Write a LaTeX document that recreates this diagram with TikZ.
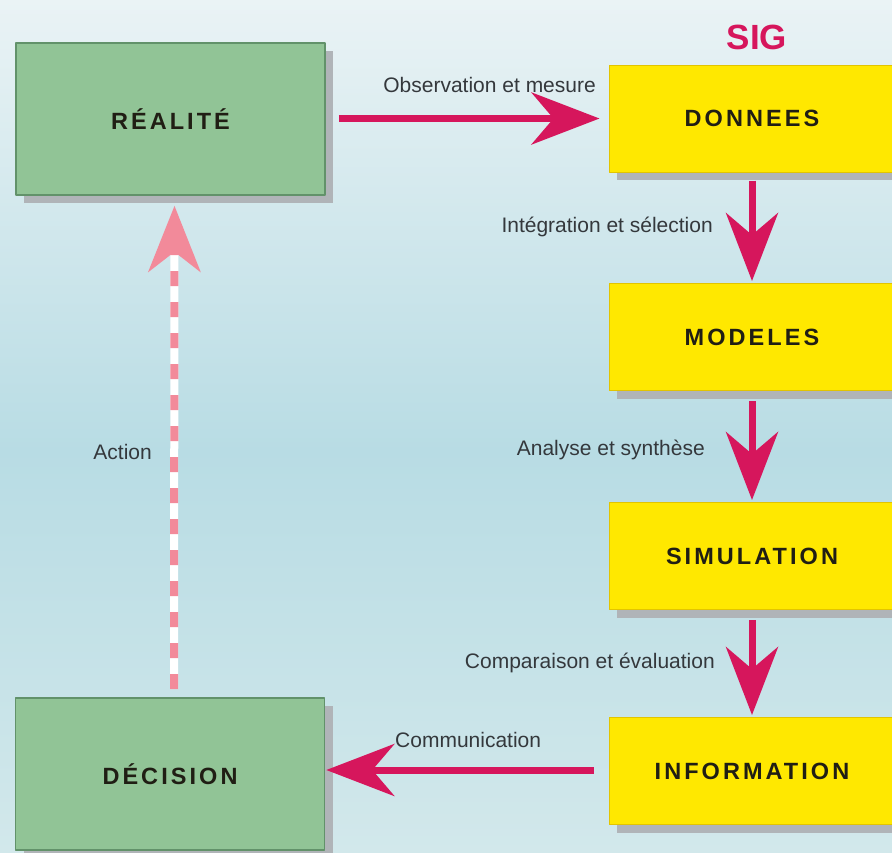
\documentclass[tikz,border=0pt]{standalone}
\usepackage{fontspec}
\setmainfont{Liberation Sans}
\newfontfamily\boxfont{Liberation Sans}[LetterSpace=13]
\usetikzlibrary{arrows.meta,shadows}
\definecolor{bgtop}{RGB}{234,243,245}
\definecolor{bgmid}{RGB}{184,220,228}
\definecolor{bgbot}{RGB}{210,232,235}
\definecolor{vert}{RGB}{145,196,150}
\definecolor{vertfonce}{RGB}{98,146,106}
\definecolor{jaune}{RGB}{255,232,0}
\definecolor{jaunefonce}{RGB}{226,196,0}
\definecolor{ombre}{RGB}{176,180,184}
\definecolor{fleche}{RGB}{214,22,92}
\definecolor{rose}{RGB}{242,138,154}
\definecolor{texte}{RGB}{52,56,60}
\begin{document}
\begin{tikzpicture}[x=1pt, y=-1pt, line join=round,
	bloc/.style={rectangle, minimum height=107pt, minimum width=286pt, inner sep=0pt,
		font=\boxfont\fontsize{23.5}{26}\selectfont\bfseries, text={rgb,255:red,32;green,30;blue,20},
		drop shadow={shadow xshift=8pt, shadow yshift=-8pt, fill=ombre, opacity=1}},
	blocsig/.style={bloc, fill=jaune, draw=jaunefonce, line width=1pt},
	blocreel/.style={bloc, minimum width=309pt, minimum height=152pt, fill=vert, draw=vertfonce, line width=1.6pt},
	flux/.style={draw=fleche, line width=7pt, -{Stealth[length=68pt, width=52pt, inset=22pt]}},
	etiq/.style={font=\fontsize{21}{24}\selectfont, text=texte, inner sep=0pt}]
	\useasboundingbox (0,0) rectangle (892,852);
	\shade[top color=bgtop, bottom color=bgmid] (0,0) rectangle (892,451);
	\shade[top color=bgmid, bottom color=bgbot] (0,450) rectangle (892,852);
	% blocs
	\node[blocreel] (real) at (170.5,119) {RÉALITÉ};
	\node[blocreel] (dec) at (170,774) {DÉCISION};
	\node[blocsig] (don) at (752,118.5) {DONNEES};
	\node[blocsig] (mod) at (752,337) {MODELES};
	\node[blocsig] (sim) at (752,556) {SIMULATION};
	\node[blocsig] (info) at (752,771) {INFORMATION};
	\node[font=\fontsize{35}{38}\selectfont\bfseries, text=fleche] (sig) at (757,37.5) {SIG};
	% fleches
	\draw[flux, shorten <=13pt, shorten >=9pt] (real.east |- don.west) -- (don.west);
	\draw[flux, shorten <=8pt, shorten >=2pt] (don.south) -- (mod.north);
	\draw[flux, shorten <=10pt, shorten >=2pt] (mod.south) -- (sim.north);
	\draw[flux, shorten <=10pt, shorten >=2pt] (sim.south) -- (info.north);
	\draw[flux, shorten <=15pt, shorten >=1pt] (info.west |- 0,770) -- (dec.east |- 0,770);
	\draw[white, line width=8pt, shorten <=8pt, shorten >=40pt] ([xshift=4pt]dec.north) -- ([xshift=4pt]real.south);
	\draw[rose, line width=8pt, dash pattern=on 15pt off 16pt, shorten <=8pt, shorten >=10pt,
		-{Stealth[length=66pt, width=52pt, inset=20pt]}] ([xshift=4pt]dec.north) -- ([xshift=4pt]real.south);
	% etiquettes
	\node[etiq, anchor=east] (obs) at (596,85) {Observation et mesure};
	\node[etiq, anchor=east] (integ) at (713,227) {Intégration et sélection};
	\node[etiq, anchor=east] (anal) at (705,450) {Analyse et synthèse};
	\node[etiq, anchor=east] (comp) at (715,663) {Comparaison et évaluation};
	\node[etiq, anchor=west] (comm) at (395,740) {Communication};
	\node[etiq, anchor=east] (act) at (152,452) {Action};
\end{tikzpicture}
\end{document}
